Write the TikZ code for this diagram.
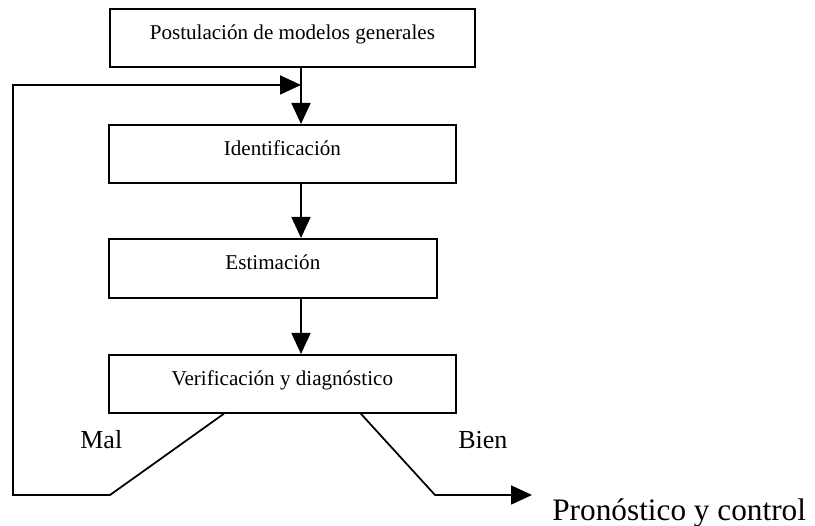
\documentclass[tikz,border=0pt]{standalone}
\usepackage{fontspec}
\setmainfont{Liberation Serif}
\usetikzlibrary{arrows.meta,positioning,calc}

\begin{document}
\begin{tikzpicture}[
  every node/.style={font=\fontsize{12}{14}\selectfont},
  stage/.style={rectangle, draw, line width=1pt, inner sep=0pt, text height=0.62cm, text depth=0.54cm, anchor=north west},
  arr/.style={line width=1pt, -{Triangle[length=0.42cm, width=0.38cm]}},
  branch/.style={font=\fontsize{14.8}{17}\selectfont, inner sep=0pt, anchor=base west},
]
\useasboundingbox (0,0) rectangle (16.3,-10.52);

% Stages of the model-building cycle
\node[stage, minimum width=7.3cm] (postul) at (2.18,-0.16) {Postulación de modelos generales};
\node[stage, minimum width=6.94cm] (ident) at (2.16,-2.48) {Identificación};
\node[stage, minimum width=6.56cm, text depth=0.56cm] (estim) at (2.16,-4.76) {Estimación};
\node[stage, minimum width=6.94cm] (verif) at (2.16,-7.08) {Verificación y diagnóstico};

% Main spine (arrows sit right of the box centres)
\coordinate (spine) at (6.02,0);
\draw[arr] (postul.south -| spine) -- (ident.north -| spine);
\draw[arr] (ident.south -| spine) -- (estim.north -| spine);
\draw[arr] (estim.south -| spine) -- (verif.north -| spine);

% Bad fit: back to identification
\coordinate (malknee) at (2.20,-9.90);
\coordinate (loopbl) at (0.26,-9.90);
\coordinate (looptl) at (0.26,-1.70);
\coordinate (loopin) at (6.02,-1.70);
\draw[arr] ([xshift=-1.17cm]verif.south) -- (malknee) -- (loopbl) -- (looptl) -- (loopin);
\node[branch] (mal) at (1.60,-8.98) {Mal};

% Good fit: forecasting
\coordinate (bienknee) at (8.70,-9.90);
\coordinate (bienend) at (10.64,-9.90);
\draw[arr] ([xshift=1.57cm]verif.south) -- (bienknee) -- (bienend);
\node[branch] (bien) at (9.16,-8.98) {Bien};
\node[branch, font=\fontsize{17.8}{21}\selectfont] (pronos) at (11.04,-10.42) {Pronóstico y control};

\end{tikzpicture}
\end{document}
